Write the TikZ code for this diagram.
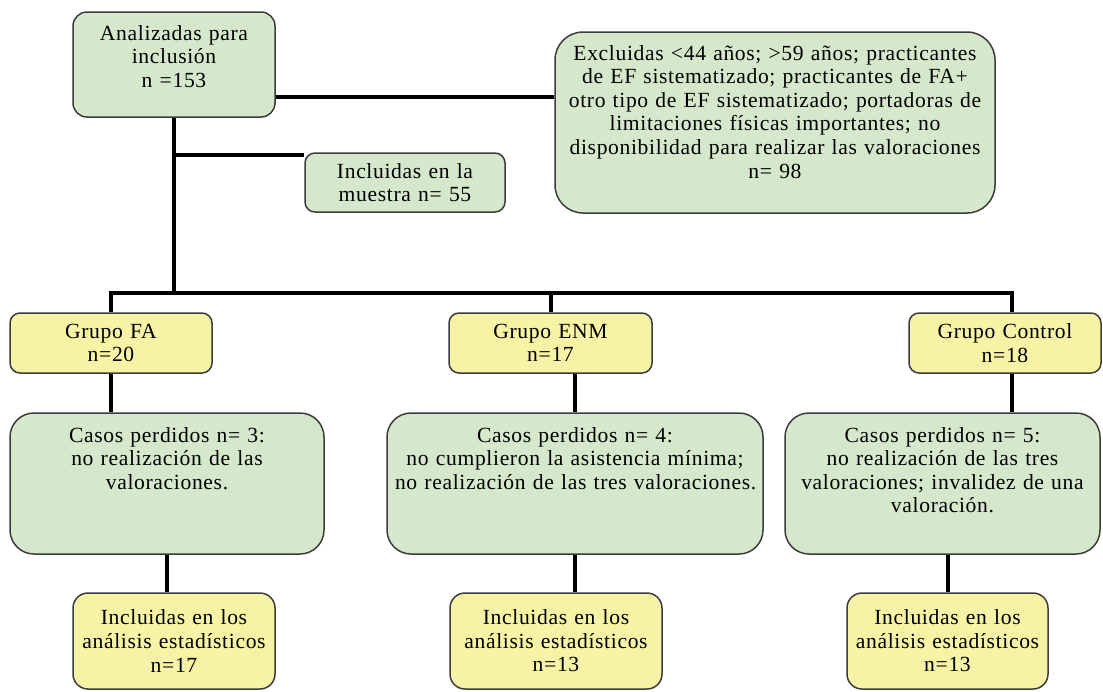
\documentclass[tikz,border=0pt]{standalone}
\usepackage{fontspec}
\setmainfont{Liberation Serif}[LetterSpace=3]
\usetikzlibrary{positioning}
\definecolor{boxgreen}{RGB}{214,232,204}
\definecolor{boxyellow}{RGB}{247,243,166}
\definecolor{boxline}{RGB}{60,60,60}

\begin{document}
\begin{tikzpicture}[x=0.5pt,y=-0.5pt,line width=2pt,font=\fontsize{10.8}{11.8}\selectfont]
	\tikzstyle{box}=[draw=boxline,line width=0.75pt,rounded corners=5pt,align=center,inner sep=4pt]
	\tikzstyle{green box}=[box,fill=boxgreen]
	\tikzstyle{yellow box}=[box,fill=boxyellow]

	\useasboundingbox (0,0) rectangle (1103,691);

	% top of the chart
	\node[green box,rounded corners=7pt,text width=93pt,text height=10pt,text depth=34.5pt] (ana) at (174,64.5) {Analizadas para\\inclusión\\n =153};
	\node[green box,rounded corners=14pt,text width=212pt,text height=10pt,text depth=72.5pt] (excl) at (775,122.5) {Excluidas <44 años; >59 años; practicantes\\de EF sistematizado; practicantes de FA+\\otro tipo de EF sistematizado; portadoras de\\limitaciones físicas importantes; no\\disponibilidad para realizar las valoraciones\\n= 98};
	\node[green box,text width=92pt,minimum height=29.5pt] (muestra) at (405,182.5) {Incluidas en la\\muestra n= 55};

	% groups
	\node[yellow box,text width=93pt,minimum height=30pt] (fa) at (111,343) {Grupo FA\\n=20};
	\node[yellow box,text width=93.5pt,minimum height=30pt] (enm) at (550.5,343) {Grupo ENM\\n=17};
	\node[yellow box,text width=88pt,minimum height=30pt] (ctrl) at (1005,343) {Grupo Control\\n=18};

	% lost cases
	\node[green box,rounded corners=12pt,text width=149pt,text height=10.5pt,text depth=52pt] (cas1) at (167,483.5) {Casos perdidos n= 3:\\no realización de las\\valoraciones.};
	\node[green box,rounded corners=12pt,text width=180pt,text height=10.5pt,text depth=52pt] (cas2) at (575,483.5) {Casos perdidos n= 4:\\no cumplieron la asistencia mínima;\\no realización de las tres valoraciones.};
	\node[green box,rounded corners=12pt,text width=149.5pt,text height=10.5pt,text depth=52pt] (cas3) at (942.5,483.5) {Casos perdidos n= 5:\\no realización de las tres\\valoraciones; invalidez de una\\valoración.};

	% analysed
	\node[yellow box,rounded corners=7.5pt,text width=93pt,minimum height=48pt] (inc1) at (174,641) {Incluidas en los\\análisis estadísticos\\n=17};
	\node[yellow box,rounded corners=7.5pt,text width=98pt,minimum height=48pt] (inc2) at (556,641) {Incluidas en los\\análisis estadísticos\\n=13};
	\node[yellow box,rounded corners=7.5pt,text width=92.5pt,minimum height=48pt] (inc3) at (947.5,641) {Incluidas en los\\análisis estadísticos\\n=13};

	\coordinate (split) at (174,155);
	\coordinate (bar) at (174,293);

	\draw ([yshift=-16.25pt]ana.east) -- ([yshift=-16.25pt]ana.east -| excl.west);
	\draw (ana.south) -- (bar);
	\draw (split) -- (split -| muestra.west);
	\draw (fa.north) -- (fa.north |- bar) -- ([xshift=3.5pt]ctrl.north |- bar) -- ([xshift=3.5pt]ctrl.north);
	\draw (enm.north) -- (enm.north |- bar);
	\draw (fa.south) -- (fa.south |- cas1.north);
	\draw (cas2.north) -- (cas2.north |- enm.south);
	\draw ([xshift=3.5pt]ctrl.south) -- ([xshift=3.5pt]ctrl.south |- cas3.north);
	\draw (cas1.south) -- (cas1.south |- inc1.north);
	\draw (cas2.south) -- (cas2.south |- inc2.north);
	\draw (inc3.north) -- (inc3.north |- cas3.south);
\end{tikzpicture}
\end{document}
